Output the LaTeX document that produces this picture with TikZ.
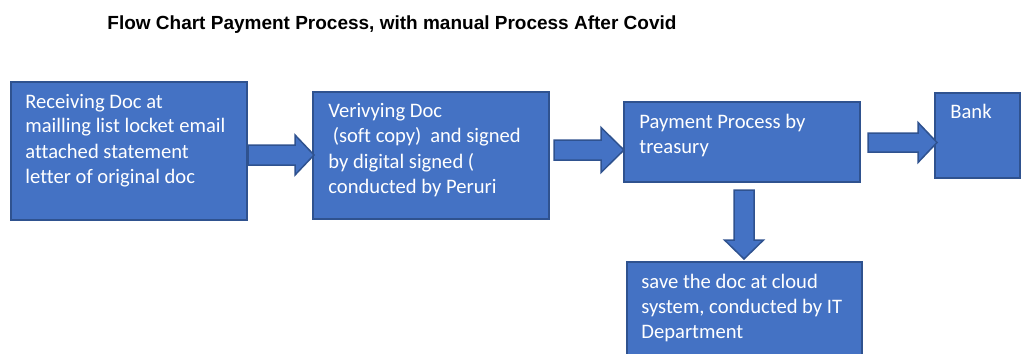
\documentclass[tikz,border=0pt]{standalone}
\usepackage{fontspec}
\setmainfont{Carlito}[Ligatures=NoCommon]
\newfontfamily\titlefont{Liberation Sans}
\usetikzlibrary{calc}

\definecolor{boxfill}{HTML}{4472C4}
\definecolor{boxline}{HTML}{2F528F}

% Block-arrow outline: shaft half width, head half width, head length (in pt)
\def\shw{5pt}
\def\hhw{10pt}
\def\hlen{9.5pt}

\tikzset{
  stepbox/.style={draw=boxline, fill=boxfill, line width=0.75pt,
    rectangle, anchor=north west, inner sep=0pt, outer sep=0pt},
  boxtext/.style={anchor=base west, inner sep=0pt, text=white},
  rightarrow/.style={draw=boxline, fill=boxfill, line width=0.75pt,
    line join=miter,
    to path={let \p1=(\tikztostart), \p2=(\tikztotarget) in
      (\x1,\y1+\shw) -- (\x2-\hlen,\y1+\shw) -- (\x2-\hlen,\y1+\hhw)
      -- (\x2,\y1) -- (\x2-\hlen,\y1-\hhw) -- (\x2-\hlen,\y1-\shw)
      -- (\x1,\y1-\shw) -- cycle}},
  downarrow/.style={draw=boxline, fill=boxfill, line width=0.75pt,
    line join=miter,
    to path={let \p1=(\tikztostart), \p2=(\tikztotarget) in
      (\x1-\shw,\y1) -- (\x1-\shw,\y2+\hlen) -- (\x1-\hhw,\y2+\hlen)
      -- (\x1,\y2) -- (\x1+\hhw,\y2+\hlen) -- (\x1+\shw,\y2+\hlen)
      -- (\x1+\shw,\y1) -- cycle}},
}

\newcommand{\boxlines}[1]{\parbox[t]{112pt}{\fontsize{10.3pt}{12.5pt}\selectfont\raggedright #1}}

\begin{document}
\begin{tikzpicture}[x=0.5pt, y=-0.5pt]
  \useasboundingbox (0,0) rectangle (1021,353);

  % title
  \node[anchor=base west, inner sep=0pt] (title) at (107,30)
    {\titlefont\bfseries\fontsize{9.5pt}{11pt}\selectfont Flow Chart Payment Process, with manual Process After Covid};

  % process boxes
  \node[stepbox, minimum width=118pt, minimum height=69pt] (receive) at (11,82) {};
  \node[stepbox, minimum width=118pt, minimum height=63.5pt] (verify) at (313,92) {};
  \node[stepbox, minimum width=118pt, minimum height=40pt] (pay) at (624,102) {};
  \node[stepbox, minimum width=42.5pt, minimum height=42.5pt] (bank) at (935,93) {};
  \node[stepbox, minimum width=117.5pt, minimum height=50pt] (cloud) at (627,262) {};

  % box labels
  \node[boxtext] (receivetxt) at ([shift={(14,26)}]receive.north west)
    {\boxlines{Receiving Doc at\\mailling list locket email\\attached statement\\letter of original doc}};
  \node[boxtext] (verifytxt) at ([shift={(15,26)}]verify.north west)
    {\boxlines{Verivying Doc\\\hspace*{2.2pt}(soft copy)\hspace{4.4pt}and signed\\by digital signed (\\conducted by Peruri}};
  \node[boxtext] (paytxt) at ([shift={(15,26)}]pay.north west)
    {\boxlines{Payment Process by\\treasury}};
  \node[boxtext] (banktxt) at ([shift={(15,26)}]bank.north west)
    {\boxlines{Bank}};
  \node[boxtext] (cloudtxt) at ([shift={(14,26)}]cloud.north west)
    {\boxlines{save the doc at cloud\\system, conducted by IT\\Department}};

  % block arrows between the steps
  \draw[rightarrow] ([xshift=0.5pt]receive.east |- 0,155) to ([xshift=0.5pt]verify.west |- 0,155);
  \draw[rightarrow, /utils/exec={\def\hhw{11.25pt}\def\hlen{11.5pt}}]
    ([xshift=2.5pt]verify.east |- 0,150) to (pay.west |- 0,150);
  \draw[rightarrow, /utils/exec={\def\shw{4.75pt}}]
    ([xshift=4pt]pay.east |- 0,142.5) to ([xshift=1pt]bank.west |- 0,142.5);
  \draw[downarrow, /utils/exec={\def\hhw{9.75pt}}]
    ([yshift=-4pt]pay.south -| 744,0) to ([yshift=1.5pt]cloud.north -| 744,0);
\end{tikzpicture}
\end{document}
